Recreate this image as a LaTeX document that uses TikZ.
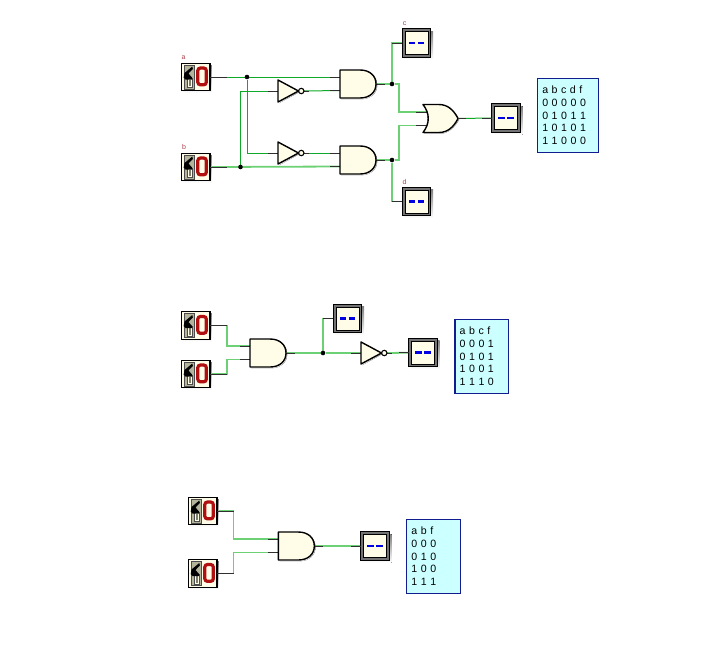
\documentclass[tikz,border=0pt]{standalone}
\usepackage{fontspec}
\setmainfont{Liberation Sans}
\pgfdeclarelayer{wires}
\pgfsetlayers{wires,main}
\definecolor{cream}{HTML}{FFFDE8}
\definecolor{shade}{HTML}{7C7C7C}
\definecolor{stubc}{HTML}{303030}
\definecolor{wireA}{HTML}{10A828}
\definecolor{wireB}{HTML}{6CD074}
\definecolor{labelred}{HTML}{A84048}
\definecolor{swred}{HTML}{B01010}
\definecolor{panel}{HTML}{B4B49A}
\definecolor{tablefill}{HTML}{CCFFFF}
\definecolor{tableline}{HTML}{101C90}
\tikzset{
  stub/.style={draw=stubc,line width=1pt},
  wireone/.style={draw=wireA,line width=1pt},
  wiretwo/.style={draw=wireB,line width=1.8pt},
  gateline/.style={draw=black,line width=1.4pt,fill=cream,line join=round},
  joint/.style={circle,fill=black,inner sep=0pt,minimum size=4.6pt},
  pinlabel/.style={text=labelred,font=\fontsize{7}{8}\selectfont,inner sep=0pt},
  truth/.style={draw=tableline,line width=1.1pt,fill=tablefill,inner sep=0pt,align=left,
    font=\fontsize{10.6}{12.8}\selectfont,minimum height=74pt},
  pics/switchbox/.style={code={
    \fill[shade] (-12.3,-11.8) rectangle (16.4,15.9);
    \draw[fill=cream,draw=black,line width=1.2pt] (-14.2,-13.8) rectangle (14.4,13.8);
    \fill[panel,draw=black!70,line width=0.5pt] (-11.5,-12) rectangle (-1.2,12);
    \fill[cream,draw=black!70,line width=0.6pt] (-8.5,1) rectangle (-3.6,10.5);
    \fill[panel!70!black] (-6.8,2.5) rectangle (-5,9);
    \fill[black] (-11.8,0.5) -- (-11,-4) -- (-3.2,-10.5) -- (-2.6,-8) -- (-7,-3.5) -- (-3.5,0.5) -- (-3.5,2.5) -- (-10,2.5) -- cycle;
    \draw[draw=swred,fill=cream,line width=3.2pt,rounded corners=2.6pt] (2.3,-9) rectangle (10.8,7.8);
    \coordinate (-out) at (14.4,0);
    \draw[stub] (14.4,0) -- (31.5,0);
  }},
  pics/readout/.style={code={
    \fill[shade] (-12,-12) rectangle (16.5,16.5);
    \draw[fill=black!55,draw=black,line width=1pt] (-14.2,-14.2) rectangle (14.2,14.2);
    \draw[fill=cream,draw=black,line width=0.7pt] (-11.4,-11.4) rectangle (11.4,11.4);
    \draw[blue!90!black,line width=2.9pt] (-7.6,0) -- (-1.1,0) (1.1,0) -- (7.6,0);
    \coordinate (-in) at (-14.2,0);
    \draw[stub] (-14.2,0) -- (-24.2,0);
  }},
  pics/andgate/.style={code={
    \fill[shade] (1.2,-12.8) -- (21,-12.8) .. controls (31,-12.8) and (37.2,-7) .. (37.2,1.2) .. controls (37.2,9) and (31,15.2) .. (21,15.2) -- (1.2,15.2) -- cycle;
    \draw[stub] (0,-7) -- (-10,-7) (0,6.5) -- (-10,6.5) (36,0) -- (45,0);
    \draw[gateline] (0,-14) -- (20,-14) .. controls (30,-14) and (36,-8) .. (36,0) .. controls (36,8) and (30,14) .. (20,14) -- (0,14) -- cycle;
    \coordinate (-a) at (0,-7);
    \coordinate (-b) at (0,6.5);
    \coordinate (-out) at (36,0);
  }},
  pics/orgate/.style={code={
    \draw[stub] (5,-6.5) -- (-7,-6.5) (5,7) -- (-7,7) (35,0) -- (43,0);
    \fill[shade] (4,-12.8) -- (17,-12.8) .. controls (26,-12.8) and (32,-7) .. (36.2,1.2) .. controls (32,8) and (26,15.2) .. (17,15.2) -- (1.2,15.2) -- (4,8) -- cycle;
    \draw[gateline] (0,-14) -- (16,-14) .. controls (25,-14) and (31,-8) .. (35,0) .. controls (31,8) and (25,14) .. (16,14) -- (0,14) .. controls (7,5) and (7,-5) .. (0,-14) -- cycle;
    \coordinate (-a) at (5,-6.5);
    \coordinate (-b) at (5,7);
    \coordinate (-out) at (35,0);
  }},
  pics/invgate/.style={code={
    \fill[shade] (1,-9.8) -- (21.5,1) -- (1,12.2) -- cycle;
    \draw[stub] (0,0) -- (-10,0) (26,0) -- (31,0);
    \draw[gateline] (0,-11) -- (20.5,0) -- (0,11) -- cycle;
    \draw[draw=black,line width=1.1pt,fill=cream] (23.3,0) circle[radius=2.7pt];
    \coordinate (-in) at (0,0);
    \coordinate (-out) at (26,0);
  }}
}
\begin{document}
\begin{tikzpicture}[x=1pt,y=-1pt]
\useasboundingbox (0,0) rectangle (703,649);
% ---------- first circuit ----------
\pic (swa) at (195.5,77) {switchbox};
\pic (swb) at (195.5,167) {switchbox};
\pic (inva) at (278,91) {invgate};
\pic (invb) at (278,153) {invgate};
\pic (anda) at (340,84) {andgate};
\pic (andb) at (340,160) {andgate};
\pic (orf) at (423,118.5) {orgate};
\pic (dc) at (416.5,43) {readout};
\pic (dd) at (416.5,201.5) {readout};
\pic (df) at (506,118) {readout};
\node[pinlabel] (la) at (183.5,58) {a};
\node[pinlabel] (lb) at (184,147) {b};
\node[pinlabel] (lc) at (404.5,23.5) {c};
\node[pinlabel] (ld) at (404.5,181.5) {d};
\node[joint] (ja) at (247,77) {};
\node[joint] (jb) at (240.5,167) {};
\node[joint] (jc) at (392,84) {};
\node[joint] (jd) at (392,160) {};
\coordinate (ra) at (399,84);
\coordinate (rb) at (399,160);
\node[truth,minimum width=61pt,text width=51pt] (ta) at (567.8,115.3) {a b c d f\\0 0 0 0 0\\0 1 0 1 1\\1 0 1 0 1\\1 1 0 0 0};
% ---------- second circuit ----------
\pic (swc) at (195.5,325.5) {switchbox};
\pic (swd) at (195.5,374) {switchbox};
\pic (andc) at (250,353) {andgate};
\pic (invc) at (361,353) {invgate};
\pic (dg) at (347.5,318.5) {readout};
\pic (dh) at (423,352.7) {readout};
\node[joint] (je) at (323,353) {};
\coordinate (kc) at (227,325.5);
\coordinate (kd) at (227,374);
\node[truth,minimum width=53.5pt,text width=44pt] (tb) at (481.7,356.3) {a b c f\\0 0 0 1\\0 1 0 1\\1 0 0 1\\1 1 1 0};
% ---------- third circuit ----------
\pic (swe) at (202.5,511) {switchbox};
\pic (swf) at (202.5,573.5) {switchbox};
\pic (ande) at (278.3,546) {andgate};
\pic (di) at (375,546) {readout};
\coordinate (ke) at (233.5,511);
\coordinate (kf) at (233.5,573.5);
\node[truth,minimum width=53.5pt,text width=44pt] (tc) at (433.4,556.3) {a b f\\0 0 0\\0 1 0\\1 0 0\\1 1 1};
% ---------- connectors ----------
\begin{pgfonlayer}{wires}
\draw[wireone] (swa-out) -- (anda-a);
\draw[wireone] (ja) |- (invb-in);
\draw[wireone] (jb) |- (inva-in);
\draw[wireone] (inva-out) -- (anda-b);
\draw[wireone] (invb-out) -- (andb-a);
\draw[wiretwo] (swb-out) -- (andb-b);
\draw[wiretwo] (anda-out) -- (jc);
\draw[wiretwo] (andb-out) -- (jd);
\draw[wiretwo] (jc) |- (dc-in);
\draw[wiretwo] (jd) |- (dd-in);
\draw[wiretwo] (jc) -- (ra) |- (orf-a);
\draw[wiretwo] (jd) -- (rb) |- (orf-b);
\draw[wireone] (orf-out) -- (df-in);
\draw[wiretwo] (swc-out) -- (kc) |- (andc-a);
\draw[wiretwo] (swd-out) -- (kd) |- (andc-b);
\draw[wiretwo] (andc-out) -- (je);
\draw[wiretwo] (je) -- (invc-in);
\draw[wiretwo] (je) |- (dg-in);
\draw[wiretwo] (invc-out) -- (dh-in);
\draw[wiretwo] (swe-out) -- (ke) |- (ande-a);
\draw[wiretwo] (swf-out) -- (kf) |- (ande-b);
\draw[wiretwo] (ande-out) -- (di-in);
\end{pgfonlayer}
\end{tikzpicture}
\end{document}
